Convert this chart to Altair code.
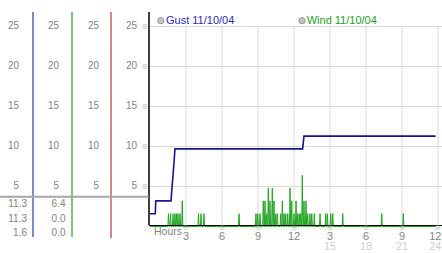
import altair as alt
import pandas as pd

# ---------------- data ----------------
gust_hours = [0.0, 0.44, 0.48, 1.75, 1.83, 1.92, 2.0, 2.08, 12.72, 12.83, 23.8]
gust_values = [1.6, 1.6, 3.2, 3.2, 4.8, 6.4, 8.0, 9.7, 9.7, 11.3, 11.3]

wind_hours = [1.54, 1.71, 1.92, 2.08, 2.21, 2.33, 2.50, 2.69, 4.04, 4.25, 4.50, 7.42,
              8.83, 8.98, 9.17, 9.44, 9.58, 9.73, 9.86, 10.00, 10.19, 10.33, 10.48, 10.61,
              10.89, 11.03, 11.17, 11.31, 11.48, 11.67, 11.81, 12.00, 12.17, 12.31, 12.44,
              12.56, 12.69, 12.83, 13.00, 13.14, 13.33, 13.48, 13.69, 14.17, 14.64, 14.78,
              15.06, 15.23, 16.06, 19.31, 21.11]
wind_values = [1.6, 1.6, 1.6, 1.6, 1.6, 1.6, 1.6, 3.2, 1.6, 1.6, 1.6, 1.6,
               1.6, 1.6, 1.6, 3.2, 3.2, 1.6, 4.8, 3.2, 4.8, 3.2, 1.6, 1.6,
               1.6, 3.2, 1.6, 1.6, 1.6, 4.8, 3.2, 1.6, 3.2, 1.6, 1.6,
               1.6, 6.4, 3.2, 3.2, 1.6, 1.6, 1.6, 1.6, 1.6, 1.6, 1.6,
               1.6, 1.6, 1.6, 1.6, 1.6]
wind_end = 23.8

y_ticks = [5, 10, 15, 20, 25]
x_ticks = [3, 6, 9, 12, 15, 18, 21, 24]
x_labels = ["3", "6", "9", "12", "3", "6", "9", "12"]
x_labels_24 = ["", "", "", "", "15", "18", "21", "24"]

stat_col1 = ["11.3", "11.3", "1.6"]
stat_col2 = ["6.4", "0.0", "0.0"]

legend_gust = "Gust 11/10/04"
legend_wind = "Wind 11/10/04"

# ---------------- tables ----------------
gust_df = pd.DataFrame({"h": gust_hours, "v": gust_values})

rows = [(0.0, 0.0)]
for h, v in zip(wind_hours, wind_values):
    rows += [(h - 0.05, 0.0), (h, v), (h + 0.05, 0.0)]
rows.append((wind_end, 0.0))
wind_df = pd.DataFrame(rows, columns=["h", "v"])

yt_df = pd.DataFrame({"v": y_ticks, "lab": [str(t) for t in y_ticks]})
xt_df = pd.DataFrame({"h": x_ticks, "lab": x_labels, "lab2": x_labels_24,
                      "y0": [0] * len(x_ticks), "y1": [25] * len(x_ticks)})
one = pd.DataFrame({"k": [0]})

# ---------------- styling ----------------
W, H = 292, 214.5
xs = alt.Scale(domain=[0, 24.333], nice=False, zero=False)
ys = alt.Scale(domain=[0, 26.8125], nice=False, zero=False)
FONT = "Liberation Sans"
MARKFONT = "Noto Sans CJK JP"
GRAY = "#858585"
GRID = "#dadada"

X = lambda f: alt.X(f, type="quantitative", scale=xs, axis=None)
Y = lambda f: alt.Y(f, type="quantitative", scale=ys, axis=None)

layers = []

# grid
layers.append(alt.Chart(yt_df).mark_rule(color=GRID, strokeWidth=1).encode(
    y=Y("v"), x=alt.value(0), x2=alt.value(W)))
layers.append(alt.Chart(xt_df).mark_rule(color=GRID, strokeWidth=1).encode(
    x=X("h"), y=Y("y0"), y2=alt.Y2("y1")))

# wind line
layers.append(alt.Chart(wind_df).mark_line(color="#22a522", strokeWidth=1,
                                           interpolate="linear").encode(
    x=X("h"), y=Y("v")))

# baseline and main axis line
layers.append(alt.Chart(one).mark_rule(color="black", strokeWidth=1.2, yOffset=-1).encode(
    y=alt.value(H), x=alt.value(-1), x2=alt.value(W)))
layers.append(alt.Chart(one).mark_rule(color="black", strokeWidth=1.5).encode(
    x=alt.value(-1), y=alt.value(0), y2=alt.value(H - 1.5)))

# gust line
layers.append(alt.Chart(gust_df).mark_line(color="#16168e", strokeWidth=1.6,
                                           interpolate="linear").encode(
    x=X("h"), y=Y("v")))

# left panel lines
for px, col, y2 in [(-117, "#2541a0", 225), (-78, "#2e9e2e", 225), (-39, "#b03636", 226)]:
    layers.append(alt.Chart(one).mark_rule(color=col, strokeWidth=1.2).encode(
        x=alt.value(px), y=alt.value(0), y2=alt.value(y2)))
layers.append(alt.Chart(one).mark_rule(color="#a6a6a6", strokeWidth=2).encode(
    y=alt.value(184.7), x=alt.value(-150), x2=alt.value(-1.5)))

# left panel tick labels (4 columns)
for px in [-131, -91, -51, -13]:
    layers.append(alt.Chart(yt_df).mark_text(align="right", baseline="middle", dy=-1,
                                             font=FONT, fontSize=10, color=GRAY).encode(
        x=alt.value(px), y=Y("v"), text="lab:N"))
# small tick glyphs on y axis
layers.append(alt.Chart(yt_df).mark_text(align="center", baseline="middle",
                                         font=MARKFONT, fontSize=7, color="#a0a0a0").encode(
    x=alt.value(-5), y=Y("v"), text=alt.value("※")))

# stats under the line
for i, (a, b) in enumerate(zip(stat_col1, stat_col2)):
    py = 192 + 14.5 * i
    layers.append(alt.Chart(one).mark_text(align="right", baseline="middle", font=FONT,
                                           fontSize=10, color=GRAY).encode(
        x=alt.value(-123), y=alt.value(py), text=alt.value(a)))
    layers.append(alt.Chart(one).mark_text(align="right", baseline="middle", font=FONT,
                                           fontSize=10, color=GRAY).encode(
        x=alt.value(-84.5), y=alt.value(py), text=alt.value(b)))

# x axis labels
layers.append(alt.Chart(xt_df).mark_text(align="center", baseline="middle",
                                         font=MARKFONT, fontSize=7, color="#a0a0a0").encode(
    x=X("h"), y=alt.value(216), text=alt.value("※")))
inner = alt.datum.h < 24
last = alt.datum.h >= 24
layers.append(alt.Chart(xt_df).transform_filter(inner).mark_text(
    align="center", baseline="middle", font=FONT, fontSize=11, color=GRAY).encode(
    x=X("h"), y=alt.value(224.5), text="lab:N"))
layers.append(alt.Chart(xt_df).transform_filter(last).mark_text(
    align="right", baseline="middle", font=FONT, fontSize=11, color=GRAY, dx=3.5).encode(
    x=X("h"), y=alt.value(224.5), text="lab:N"))
layers.append(alt.Chart(xt_df).transform_filter(inner).mark_text(
    align="center", baseline="middle", font=FONT, fontSize=11, color="#d0d0d0").encode(
    x=X("h"), y=alt.value(234.5), text="lab2:N"))
layers.append(alt.Chart(xt_df).transform_filter(last).mark_text(
    align="right", baseline="middle", font=FONT, fontSize=11, color="#d0d0d0", dx=3.5).encode(
    x=X("h"), y=alt.value(234.5), text="lab2:N"))
layers.append(alt.Chart(one).mark_text(align="left", baseline="middle", font=FONT,
                                       fontSize=10.5, color=GRAY).encode(
    x=alt.value(4), y=alt.value(220), text=alt.value("Hours")))

# legend
for cx, tx, label, col in [(10.7, 16, legend_gust, "#2b2bb5"), (152, 156.7, legend_wind, "#23a023")]:
    layers.append(alt.Chart(one).mark_point(filled=True, fill="#c4c4c4", stroke="#969696",
                                            strokeWidth=1, size=38, opacity=1).encode(
        x=alt.value(cx), y=alt.value(8.7)))
    layers.append(alt.Chart(one).mark_text(align="left", baseline="middle", font=FONT,
                                           fontSize=11, color=col).encode(
        x=alt.value(tx), y=alt.value(8.7), text=alt.value(label)))

chart = alt.layer(*layers).properties(
    width=W, height=H,
    padding={"left": 150, "top": 12, "right": 0, "bottom": 26.5},
    autosize=alt.AutoSizeParams(type="none"),
    background="white",
).configure_view(stroke=None)

chart.save("out.html", embed_options={"renderer": "svg", "actions": False})
